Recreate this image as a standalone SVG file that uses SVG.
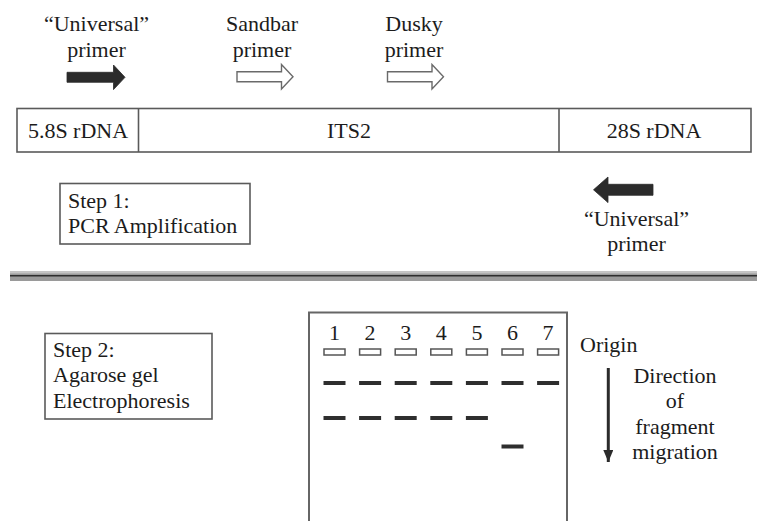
<svg xmlns="http://www.w3.org/2000/svg" width="757" height="521" viewBox="0 0 757 521">
  <style>
    text { font-family: "Liberation Serif", Tinos, "Times New Roman", "DejaVu Serif", serif; font-size: 22px; fill: #1c1c1c; }
    .c { text-anchor: middle; }
    .box { fill: #fff; stroke: #5a5a5a; stroke-width: 1.6; }
    .solid { fill: #2b2b2b; stroke: #2b2b2b; stroke-width: 0.8; stroke-linejoin: round; }
    .hollow { fill: #fff; stroke: #6a6a6a; stroke-width: 1.4; stroke-linejoin: miter; }
    .well { fill: #fff; stroke: #555; stroke-width: 1.5; }
    .band { fill: #2e2e2e; }
  </style>
  <defs>
    <marker id="down-head" viewBox="0 0 12 10" refX="12" refY="5" markerWidth="12" markerHeight="10" markerUnits="userSpaceOnUse" orient="auto">
      <path d="M0,0 L12,5 L0,10 Z" fill="#2b2b2b"/>
    </marker>
  </defs>

  <rect width="757" height="521" fill="#fff"/>

  <!-- Step 1: primers over the rDNA template -->
  <g id="primer-universal-fwd">
    <text class="c" x="96.5" y="31">“Universal”</text>
    <text class="c" x="96.5" y="57">primer</text>
    <path class="solid" d="M67,72.3 H113.5 V65 L125,77.3 L113.5,89.6 V82.3 H67 Z"/>
  </g>

  <g id="primer-sandbar">
    <text class="c" x="262" y="31">Sandbar</text>
    <text class="c" x="262" y="57">primer</text>
    <path class="hollow" d="M237,71.8 H281.5 V64.5 L293,76.8 L281.5,89 V81.8 H237 Z"/>
  </g>

  <g id="primer-dusky">
    <text class="c" x="414" y="31">Dusky</text>
    <text class="c" x="414" y="57">primer</text>
    <path class="hollow" d="M387.5,71.8 H432 V64.5 L443.5,76.8 L432,89 V81.8 H387.5 Z"/>
  </g>

  <g id="template">
    <rect class="box" x="17" y="108.5" width="734" height="43.5"/>
    <line x1="138.5" y1="108.5" x2="138.5" y2="152" stroke="#5a5a5a" stroke-width="1.6"/>
    <line x1="559" y1="108.5" x2="559" y2="152" stroke="#5a5a5a" stroke-width="1.6"/>
    <text class="c" x="78" y="138">5.8S rDNA</text>
    <text class="c" x="349" y="138">ITS2</text>
    <text class="c" x="654" y="138">28S rDNA</text>
  </g>

  <g id="primer-universal-rev">
    <path class="solid" d="M653,184.3 H608 V177 L593.5,189.8 L608,202.6 V195.3 H653 Z"/>
    <text class="c" x="636.5" y="226">“Universal”</text>
    <text class="c" x="636.5" y="251">primer</text>
  </g>

  <g id="step1">
    <rect class="box" x="60" y="183.5" width="190" height="60.5"/>
    <text x="68" y="208">Step 1:</text>
    <text x="68" y="233">PCR Amplification</text>
  </g>

  <!-- separator between the two steps -->
  <g id="separator">
    <rect x="10" y="271" width="747" height="10" fill="#9a9a9a"/>
    <rect x="10" y="271" width="747" height="2.5" fill="#c4c4c4"/>
    <line x1="10" y1="275.8" x2="757" y2="275.8" stroke="#2e2e2e" stroke-width="1.6"/>
  </g>

  <!-- Step 2: gel -->
  <g id="step2">
    <rect class="box" x="45" y="333.5" width="167" height="85.5"/>
    <text x="53" y="357">Step 2:</text>
    <text x="53" y="382">Agarose gel</text>
    <text x="53" y="408">Electrophoresis</text>
  </g>

  <g id="gel">
    <path d="M309,530 V312.5 H567 V530" fill="#fff" stroke="#666" stroke-width="2"/>
    <g id="lane-labels">
      <text class="c" x="334.5" y="340">1</text>
      <text class="c" x="370.1" y="340">2</text>
      <text class="c" x="405.7" y="340">3</text>
      <text class="c" x="441.3" y="340">4</text>
      <text class="c" x="476.9" y="340">5</text>
      <text class="c" x="512.5" y="340">6</text>
      <text class="c" x="548.1" y="340">7</text>
    </g>
    <g id="wells">
      <rect class="well" x="324" y="349" width="21" height="6"/>
      <rect class="well" x="359.6" y="349" width="21" height="6"/>
      <rect class="well" x="395.2" y="349" width="21" height="6"/>
      <rect class="well" x="430.8" y="349" width="21" height="6"/>
      <rect class="well" x="466.4" y="349" width="21" height="6"/>
      <rect class="well" x="502" y="349" width="21" height="6"/>
      <rect class="well" x="537.6" y="349" width="21" height="6"/>
    </g>
    <g id="bands">
      <rect class="band" x="323.5" y="381" width="22" height="4"/>
      <rect class="band" x="359.1" y="381" width="22" height="4"/>
      <rect class="band" x="394.7" y="381" width="22" height="4"/>
      <rect class="band" x="430.3" y="381" width="22" height="4"/>
      <rect class="band" x="465.9" y="381" width="22" height="4"/>
      <rect class="band" x="501.5" y="381" width="22" height="4"/>
      <rect class="band" x="537.1" y="381" width="22" height="4"/>
      <rect class="band" x="323.5" y="416" width="22" height="4"/>
      <rect class="band" x="359.1" y="416" width="22" height="4"/>
      <rect class="band" x="394.7" y="416" width="22" height="4"/>
      <rect class="band" x="430.3" y="416" width="22" height="4"/>
      <rect class="band" x="465.9" y="416" width="22" height="4"/>
      <rect class="band" x="501.5" y="444.5" width="22" height="4"/>
    </g>
  </g>

  <g id="origin">
    <text x="580" y="352">Origin</text>
  </g>

  <g id="connectors">
    <line x1="608.3" y1="368" x2="608.3" y2="462" stroke="#2b2b2b" stroke-width="3" marker-end="url(#down-head)"/>
  </g>

  <g id="migration-label">
    <text class="c" x="675" y="383">Direction</text>
    <text class="c" x="675" y="408">of</text>
    <text class="c" x="675" y="434">fragment</text>
    <text class="c" x="675" y="459">migration</text>
  </g>
</svg>
